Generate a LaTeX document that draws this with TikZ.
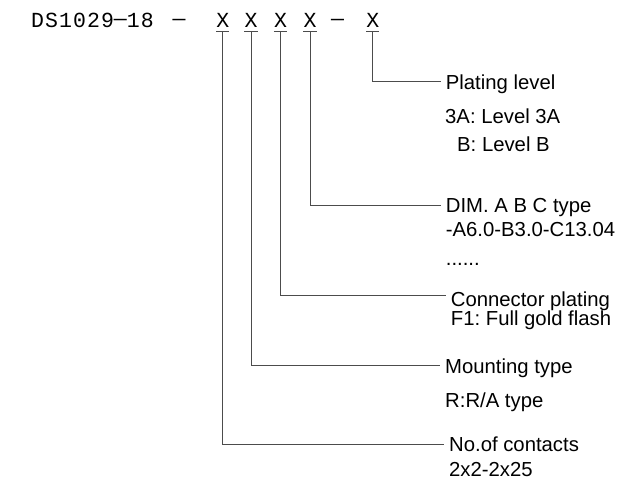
\documentclass[tikz,border=0pt]{standalone}
\usepackage{fontspec}
\setmainfont{Liberation Sans}
\newfontfamily\codefont[LetterSpace=5]{Liberation Mono}
\newfontfamily\pickfont{Liberation Mono}
\newcommand{\mdash}{\raisebox{2pt}{—}}
\frenchspacing
\tikzset{
  code/.style ={font=\codefont\fontsize{21.5}{22}\selectfont, anchor=base west, inner sep=0pt},
  pick/.style ={font=\pickfont\fontsize{21.5}{22}\selectfont, anchor=base, inner xsep=0pt, inner ysep=4pt, text depth=0pt},
  lbl/.style  ={font=\fontsize{20.3}{24}\selectfont, anchor=base west, inner xsep=5pt, inner ysep=0pt, text height=14.4pt, text depth=0pt},
  ln/.style   ={draw=black!70, line width=1pt},
}
\begin{document}
\begin{tikzpicture}[x=1pt, y=-1pt]
  \useasboundingbox (0,0) rectangle (630,485);
  % part number
  \node[code] (pn) at (31,27.7) {DS1029\mdash18};
  \node[pick] (d1) at (179,27.7) {\mdash};
  \node[pick] (x1) at (222.7,27.7) {X};
  \node[pick] (x2) at (251,27.7) {X};
  \node[pick] (x3) at (280.5,27.7) {X};
  \node[pick] (x4) at (310,27.7) {X};
  \node[pick] (d2) at (337.5,27.7) {\mdash};
  \node[pick] (x5) at (372.7,27.7) {X};
  % descriptions
  \node[lbl] (plt)  at (440.7,89)   {Plating level};
  \node[lbl] (plta) at (440,123.3)  {3A: Level 3A};
  \node[lbl] (pltb) at (452,151.7)  {B: Level B};
  \node[lbl] (dim)  at (440.7,212.5) {DIM. A B C type};
  \node[lbl] (dima) at (440.7,236.7) {-A6.0-B3.0-C13.04};
  \node[lbl] (dimb) at (440.7,265)  {......};
  \node[lbl] (con)  at (445.7,306.7) {Connector plating};
  \node[lbl] (cona) at (445.7,325)  {F1: Full gold flash};
  \node[lbl] (mnt)  at (440,373)    {Mounting type};
  \node[lbl] (mnta) at (440,407.3)  {R:R/A type};
  \node[lbl] (cnt)  at (444,451.7)  {No.of contacts};
  \node[lbl] (cnta) at (444,476.7)  {2x2-2x25};
  % leaders
  \draw[ln] (x1.south west) -- (x1.south east);
  \draw[ln] (x2.south west) -- (x2.south east);
  \draw[ln] (x3.south west) -- (x3.south east);
  \draw[ln] (x4.south west) -- (x4.south east);
  \draw[ln] (x5.south west) -- (x5.south east);
  \draw[ln] (x5.south) |- (plt.west);
  \draw[ln] (x4.south) |- (dim.west);
  \draw[ln] (x3.south) |- ([yshift=4pt]con.west);
  \draw[ln] (x2.south) |- (mnt.west);
  \draw[ln] (x1.south) |- (cnt.west);
\end{tikzpicture}
\end{document}
